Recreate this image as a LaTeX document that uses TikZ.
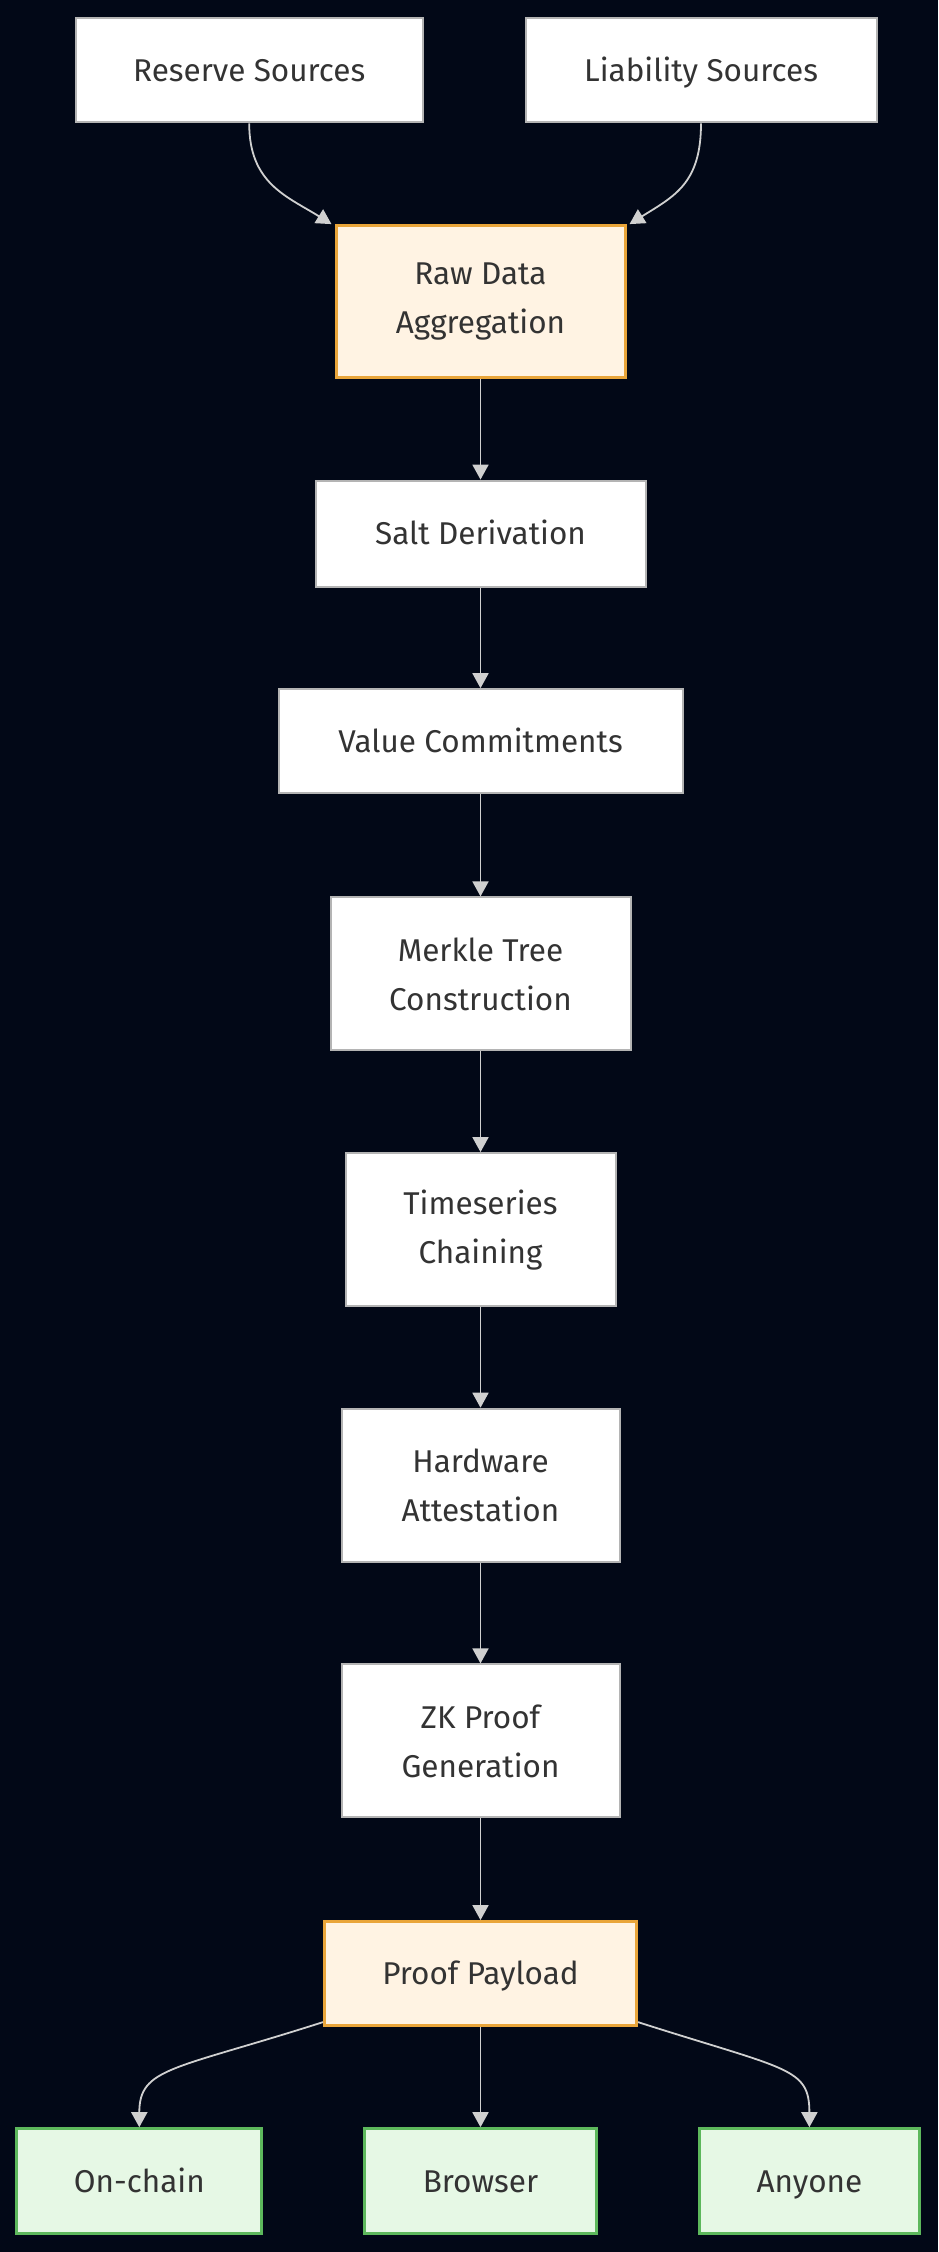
\documentclass[tikz,border=0pt]{standalone}
\usepackage{fontspec}
\setmainfont{Fira Sans}
\usetikzlibrary{arrows.meta}
\definecolor{bg}{HTML}{020817}
\definecolor{txt}{HTML}{333333}
\definecolor{boxgray}{HTML}{B4B4B4}
\definecolor{orfill}{HTML}{FFF3E3}
\definecolor{ordraw}{HTML}{E9A53A}
\definecolor{grfill}{HTML}{E6F8E5}
\definecolor{grdraw}{HTML}{5DB85C}
\definecolor{edgecol}{HTML}{D0D0D0}
\tikzset{
  base/.style={rectangle, line width=2pt, text=txt, font=\fontsize{31.5}{49}\selectfont, align=center, inner sep=0pt},
  one/.style={text height=26pt, text depth=4pt},
  plain/.style={base, fill=white, draw=boxgray},
  hot/.style={base, fill=orfill, draw=ordraw, line width=3pt},
  leaf/.style={base, fill=grfill, draw=grdraw, line width=3pt},
  conn/.style={draw=edgecol, line width=1.8pt, -{Triangle[length=15pt,width=16pt]}}
}
\begin{document}
\begin{tikzpicture}[x=1pt,y=1pt]
\fill[bg] (0,0) rectangle (938,-2252);
\useasboundingbox (0,0) rectangle (938,-2252);

\node[plain, one, minimum width=347pt, minimum height=104pt] (res) at (249.2,-70.4) {Reserve Sources};
\node[plain, one, minimum width=351pt, minimum height=104pt] (lia) at (701,-70.4) {Liability Sources};
\node[hot, minimum width=289pt, minimum height=152pt] (raw) at (480.5,-301.6) {Raw Data\\Aggregation};
\node[plain, one, minimum width=330pt, minimum height=106pt] (salt) at (480.5,-533.6) {Salt Derivation};
\node[plain, one, minimum width=404pt, minimum height=104pt] (val) at (480.5,-741.2) {Value Commitments};
\node[plain, minimum width=300pt, minimum height=153pt] (mer) at (480.5,-973.9) {Merkle Tree\\Construction};
\node[plain, minimum width=270pt, minimum height=153pt] (ts) at (480.5,-1229.6) {Timeseries\\Chaining};
\node[plain, minimum width=278pt, minimum height=153pt] (hw) at (480.5,-1485.2) {Hardware\\Attestation};
\node[plain, minimum width=278pt, minimum height=153pt] (zk) at (480.5,-1740.9) {ZK Proof\\Generation};
\node[hot, one, minimum width=312pt, minimum height=104pt] (pp) at (480.5,-1973.6) {Proof Payload};
\node[leaf, one, minimum width=245pt, minimum height=105pt] (oc) at (139.3,-2181.2) {On-chain};
\node[leaf, one, minimum width=232pt, minimum height=105pt] (br) at (480.5,-2181.2) {Browser};
\node[leaf, one, minimum width=220pt, minimum height=105pt] (any) at (809.4,-2181.2) {Anyone};

\draw[conn] (res.south) .. controls +(0,-60) and +(-45,28) .. ([xshift=-3pt]raw.north west);
\draw[conn] (lia.south) .. controls +(0,-60) and +(45,28) .. ([xshift=3pt]raw.north east);
\draw[conn] (raw) -- (salt);
\draw[conn] (salt) -- (val);
\draw[conn] (val) -- (mer);
\draw[conn] (mer) -- (ts);
\draw[conn] (ts) -- (hw);
\draw[conn] (hw) -- (zk);
\draw[conn] (zk) -- (pp);
\draw[conn] ([yshift=5pt]pp.south west) .. controls +(-150,-48) and +(0,60) .. (oc.north);
\draw[conn] (pp) -- (br);
\draw[conn] ([yshift=5pt]pp.south east) .. controls +(150,-48) and +(0,60) .. (any.north);
\end{tikzpicture}
\end{document}
